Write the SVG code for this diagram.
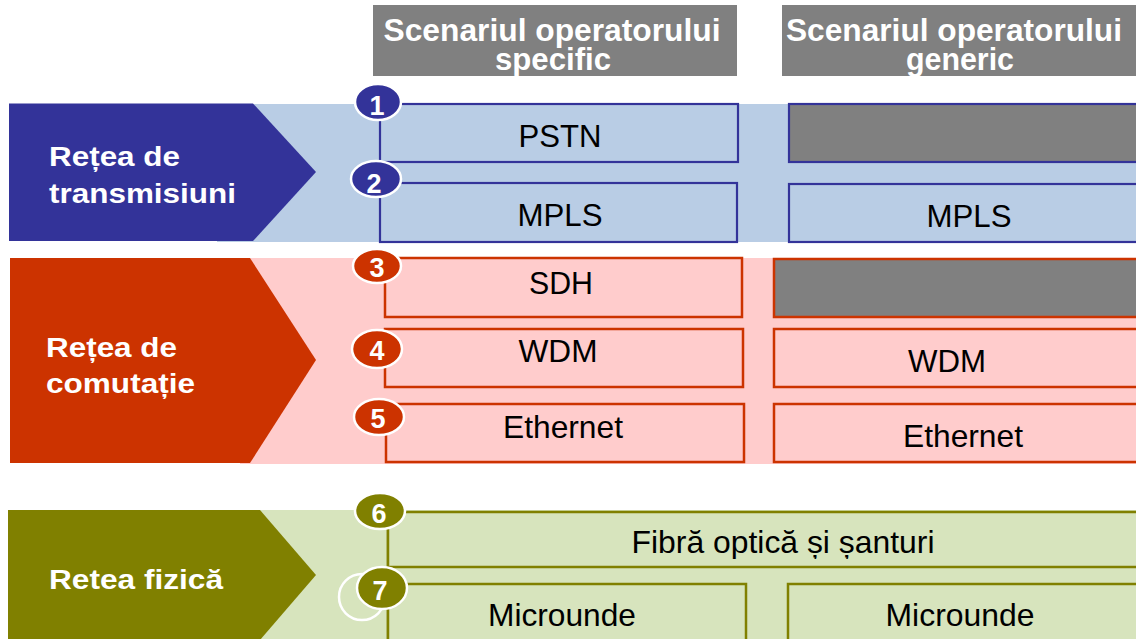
<svg xmlns="http://www.w3.org/2000/svg" width="1136" height="639" viewBox="0 0 1136 639">
<style>
.hdr{fill:#808080}
.ht{font-family:"Liberation Sans",Arial,sans-serif;font-weight:bold;font-size:31px;fill:#fff;text-anchor:middle}
.lab{font-family:"Liberation Sans",Arial,sans-serif;font-weight:bold;font-size:27px;fill:#fff}
.bt{font-family:"Liberation Sans",Arial,sans-serif;font-size:32px;fill:#000;text-anchor:middle}
.num{font-family:"Liberation Sans",Arial,sans-serif;font-weight:bold;font-size:27px;fill:#fff;text-anchor:middle}
.bb{fill:#b9cde5;stroke:#333399;stroke-width:2.2}
.rb{fill:#ffcccc;stroke:#cc3300;stroke-width:2.5}
.gb{fill:#d7e4bd;stroke:#808000;stroke-width:2.5}
.gray{fill:#808080}
.cb{fill:#333399;stroke:#fff;stroke-width:2.5}
.cr{fill:#cc3300;stroke:#fff;stroke-width:2.5}
.cg{fill:#808000;stroke:#fff;stroke-width:2.5}
</style>
<defs>
<clipPath id="h1"><rect x="373" y="5" width="364" height="71"/></clipPath>
<clipPath id="h2"><rect x="782" y="5" width="354" height="71"/></clipPath>
<clipPath id="fc"><rect x="388" y="512" width="748" height="47"/></clipPath>
</defs>
<rect width="1136" height="639" fill="#fff"/>

<!-- band backgrounds -->
<rect x="217" y="104" width="919" height="138" fill="#b9cde5"/>
<rect x="240" y="258" width="896" height="206" fill="#ffcccc"/>
<rect x="258" y="510" width="878" height="129" fill="#d7e4bd"/>

<g id="header-specific">
<rect class="hdr" x="373" y="5" width="364" height="71"/>
<g clip-path="url(#h1)">
<text class="ht" x="552" y="41" textLength="337" lengthAdjust="spacingAndGlyphs">Scenariul operatorului</text>
<text class="ht" x="553" y="70" textLength="116" lengthAdjust="spacingAndGlyphs">specific</text>
</g>
</g>
<g id="header-generic">
<rect class="hdr" x="782" y="5" width="354" height="71"/>
<g clip-path="url(#h2)">
<text class="ht" x="954" y="41" textLength="336" lengthAdjust="spacingAndGlyphs">Scenariul operatorului</text>
<text class="ht" x="960" y="70" textLength="108" lengthAdjust="spacingAndGlyphs">generic</text>
</g>
</g>

<g id="label-transmisiuni">
<polygon points="9,103.5 253,103.5 316,172 253,241 9,241" fill="#333399"/>
<text class="lab" x="49" y="166" textLength="131" lengthAdjust="spacingAndGlyphs">Rețea de</text>
<text class="lab" x="49" y="203" textLength="187" lengthAdjust="spacingAndGlyphs">transmisiuni</text>
</g>
<g id="label-comutatie">
<polygon points="10,258 250,258 316,360 250,463 10,463" fill="#cc3300"/>
<text class="lab" x="46" y="357" textLength="131" lengthAdjust="spacingAndGlyphs">Rețea de</text>
<text class="lab" x="46" y="393" textLength="149" lengthAdjust="spacingAndGlyphs">comutație</text>
</g>
<g id="label-fizica">
<polygon points="8,510 260,510 316,575 260,640 8,640" fill="#808000"/>
<text class="lab" x="49" y="589" textLength="174" lengthAdjust="spacingAndGlyphs">Retea fizică</text>
</g>

<g id="connectors">
<line x1="388" y1="512" x2="388" y2="639" stroke="#808000" stroke-width="2.5"/>
</g>

<g id="pstn">
<rect class="bb" x="380" y="104" width="358" height="58"/>
<text class="bt" x="560" y="147" textLength="83" lengthAdjust="spacingAndGlyphs">PSTN</text>
</g>
<g id="pstn-generic"><rect class="gray" x="789" y="104" width="350" height="58" stroke="#333399" stroke-width="2.2"/></g>
<g id="mpls">
<rect class="bb" x="380" y="183" width="357" height="59"/>
<text class="bt" x="560" y="226" textLength="85" lengthAdjust="spacingAndGlyphs">MPLS</text>
</g>
<g id="mpls-generic">
<rect class="bb" x="789" y="184" width="350" height="58"/>
<text class="bt" x="969" y="227" textLength="85" lengthAdjust="spacingAndGlyphs">MPLS</text>
</g>

<g id="sdh">
<rect class="rb" x="385" y="258" width="357" height="59"/>
<text class="bt" x="561" y="294" textLength="64" lengthAdjust="spacingAndGlyphs">SDH</text>
</g>
<g id="sdh-generic"><rect class="gray" x="774" y="259" width="365" height="58" stroke="#cc3300" stroke-width="2.5"/></g>
<g id="wdm">
<rect class="rb" x="385" y="329" width="358" height="58"/>
<text class="bt" x="558" y="362" textLength="79" lengthAdjust="spacingAndGlyphs">WDM</text>
</g>
<g id="wdm-generic">
<rect class="rb" x="774" y="329" width="365" height="58"/>
<text class="bt" x="947" y="372" textLength="78" lengthAdjust="spacingAndGlyphs">WDM</text>
</g>
<g id="ethernet">
<rect class="rb" x="386" y="404" width="358" height="58"/>
<text class="bt" x="563" y="438" textLength="120" lengthAdjust="spacingAndGlyphs">Ethernet</text>
</g>
<g id="ethernet-generic">
<rect class="rb" x="774" y="404" width="365" height="58"/>
<text class="bt" x="963" y="447" textLength="120" lengthAdjust="spacingAndGlyphs">Ethernet</text>
</g>

<g id="fibra">
<rect class="gb" x="388" y="512" width="751" height="55"/>
<text class="bt" x="783" y="553" textLength="303" lengthAdjust="spacingAndGlyphs" clip-path="url(#fc)">Fibră optică și șanturi</text>
</g>
<g id="microunde">
<rect class="gb" x="388" y="584" width="358" height="60"/>
<text class="bt" x="562" y="626" textLength="148" lengthAdjust="spacingAndGlyphs">Microunde</text>
</g>
<g id="microunde-generic">
<rect class="gb" x="788" y="584" width="351" height="60"/>
<text class="bt" x="960" y="626" textLength="149" lengthAdjust="spacingAndGlyphs">Microunde</text>
</g>

<g id="n1"><ellipse class="cb" cx="378" cy="102" rx="23" ry="18"/><text class="num" x="377" y="115">1</text></g>
<g id="n2"><ellipse class="cb" cx="376" cy="179" rx="25" ry="18"/><text class="num" x="374" y="193">2</text></g>
<g id="n3"><ellipse class="cr" cx="377" cy="266" rx="24" ry="17"/><text class="num" x="377" y="277">3</text></g>
<g id="n4"><ellipse class="cr" cx="377" cy="349" rx="25" ry="19"/><text class="num" x="377" y="360">4</text></g>
<g id="n5"><ellipse class="cr" cx="379" cy="417" rx="25" ry="18"/><text class="num" x="378" y="428">5</text></g>
<g id="n6"><ellipse class="cg" cx="380" cy="511" rx="25" ry="18"/><text class="num" x="379" y="523">6</text></g>
<ellipse cx="362" cy="597" rx="23" ry="23" fill="none" stroke="#fff" stroke-width="2.5"/>
<g id="n7"><ellipse class="cg" cx="382" cy="588" rx="25" ry="21"/><text class="num" x="380" y="600">7</text></g>
</svg>
